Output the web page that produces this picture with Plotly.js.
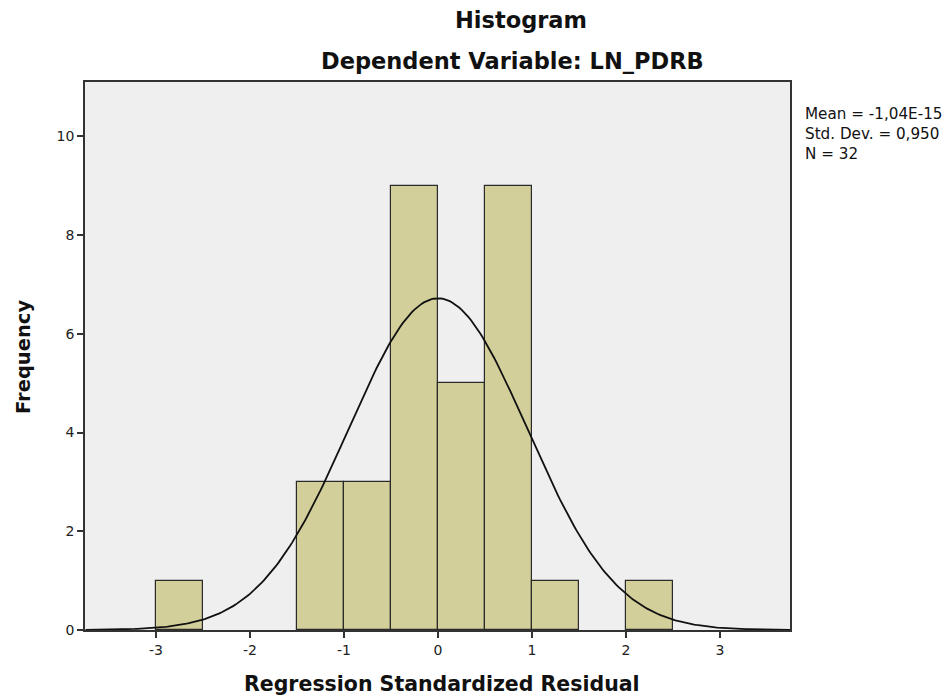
<!DOCTYPE html>
<html>
<head>
<meta charset="utf-8">
<script src="https://cdn.plot.ly/plotly-3.0.1.min.js"></script>
<style>html,body{margin:0;padding:0;background:#fff;}#chart{width:951px;height:698px;}</style>
</head>
<body>
<div id="chart"></div>
<script>
// Histogram bins (midpoints) and frequencies
const binCenters = [-2.75, -2.25, -1.75, -1.25, -0.75, -0.25, 0.25, 0.75, 1.25, 1.75, 2.25];
const frequencies = [1, 0, 0, 3, 3, 9, 5, 9, 1, 0, 1];
const binWidth = 0.5;
// Summary statistics shown on the chart
const statMean = 0;
const statSD = 0.950;
const statN = 32;
const statLabels = ["Mean = -1,04E-15", "Std. Dev. = 0,950", "N = 32"];
const xTicks = [-3, -2, -1, 0, 1, 2, 3];
const yTicks = [0, 2, 4, 6, 8, 10];

// Fitted normal curve (scaled to counts), sampled across the axis
const curveX = [];
const curveY = [];
for (let i = 0; i <= 300; i++) {
  const x = -3.75 + 7.5 * i / 300;
  curveX.push(x);
  const z = (x - statMean) / statSD;
  curveY.push(statN * binWidth * Math.exp(-0.5 * z * z) / (statSD * Math.sqrt(2 * Math.PI)));
}

const barX = [], barY = [];
binCenters.forEach((c, i) => { if (frequencies[i] > 0) { barX.push(c); barY.push(frequencies[i]); } });

const data = [
  {
    type: 'bar', x: barX, y: barY, width: binWidth,
    marker: {color: '#d3cf9b', line: {color: '#2a2a2a', width: 1.2}},
    hoverinfo: 'x+y'
  },
  {
    type: 'scatter', mode: 'lines', x: curveX, y: curveY,
    line: {color: '#111', width: 1.8}, hoverinfo: 'skip'
  }
];

const font = "'DejaVu Sans', Verdana, sans-serif";
const plotTop = 82, plotBottom = 630, plotLeft = 85, plotW = 705, plotH = 548;
const py = p => (plotBottom - p) / plotH;
const px = p => (p - plotLeft) / plotW;

const annotations = [
  {text: '<b>Histogram</b>', xref: 'paper', yref: 'paper', x: px(521), y: py(20),
   xanchor: 'center', yanchor: 'middle', showarrow: false, font: {family: font, size: 22.5, color: '#111'}},
  {text: '<b>Dependent Variable: LN_PDRB</b>', xref: 'paper', yref: 'paper', x: px(512), y: py(61),
   xanchor: 'center', yanchor: 'middle', showarrow: false, font: {family: font, size: 22.5, color: '#111'}},
  {text: '<b>Regression Standardized Residual</b>', xref: 'paper', yref: 'paper', x: px(442), y: py(684),
   xanchor: 'center', yanchor: 'middle', showarrow: false, font: {family: font, size: 20.5, color: '#111'}},
  {text: '<b>Frequency</b>', xref: 'paper', yref: 'paper', x: px(23), y: py(357), textangle: -90,
   xanchor: 'center', yanchor: 'middle', showarrow: false, font: {family: font, size: 19.5, color: '#111'}},
  {text: statLabels.join('<br>'), xref: 'paper', yref: 'paper', x: px(803), y: py(134),
   xanchor: 'left', yanchor: 'middle', align: 'left', showarrow: false,
   font: {family: font, size: 15.2, color: '#111'}}
];

const layout = {
  width: 951, height: 698,
  margin: {l: plotLeft, r: 951 - plotLeft - plotW, t: plotTop, b: 698 - plotBottom},
  paper_bgcolor: '#ffffff',
  plot_bgcolor: '#efefef',
  showlegend: false,
  bargap: 0,
  font: {family: font, color: '#111'},
  xaxis: {
    range: [-3.755, 3.745], tickvals: xTicks, ticktext: xTicks.map(String),
    ticks: 'outside', ticklen: 6, tickwidth: 1.5, tickcolor: '#333',
    showline: true, linecolor: '#333', linewidth: 1.5, mirror: true,
    showgrid: false, zeroline: false,
    tickfont: {family: font, size: 14, color: '#222'}
  },
  yaxis: {
    range: [0, 11.1], tickvals: yTicks, ticktext: yTicks.map(String),
    ticks: 'outside', ticklen: 6, tickwidth: 1.5, tickcolor: '#333',
    showline: true, linecolor: '#333', linewidth: 1.5, mirror: true,
    showgrid: false, zeroline: false,
    tickfont: {family: font, size: 14, color: '#222'}
  },
  annotations: annotations
};

Plotly.newPlot('chart', data, layout, {displayModeBar: false});
</script>
</body>
</html>
